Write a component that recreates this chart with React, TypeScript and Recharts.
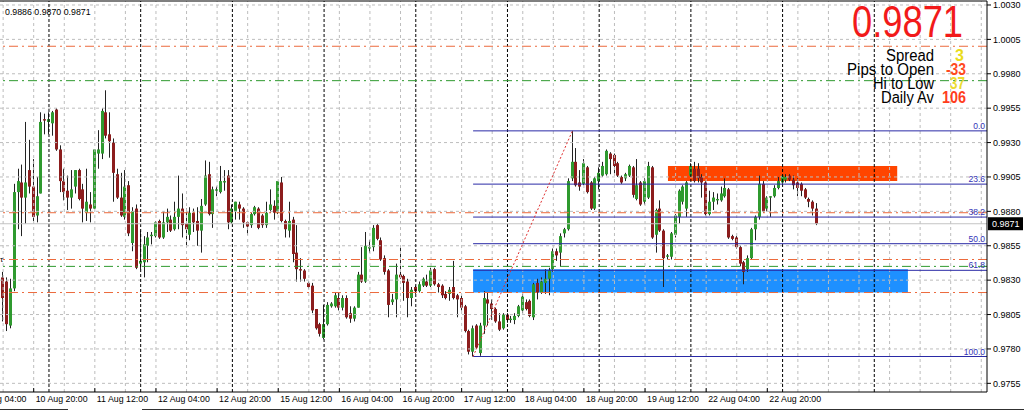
import React from "react";
import { ComposedChart, Bar, XAxis, YAxis, ReferenceLine, ReferenceArea } from "recharts";

// hourly candles, 10 Aug 12:00 -> 23 Aug 09:00
const opens = [
  0.9832, 0.9829, 0.9797, 0.9824, 0.9894, 0.9901, 0.989, 0.991, 0.9898, 0.9877,
  0.9893, 0.9947, 0.9945, 0.9944, 0.9954, 0.9925, 0.9902, 0.9895, 0.989, 0.9898,
  0.991, 0.9896, 0.9879, 0.9885, 0.9882, 0.9922, 0.9922, 0.9952, 0.9936, 0.993,
  0.9907, 0.989, 0.9876, 0.9899, 0.9857, 0.9882, 0.9842, 0.9843, 0.9855, 0.9862,
  0.9862, 0.9873, 0.9861, 0.9872, 0.9874, 0.9867, 0.9876, 0.9882, 0.9871, 0.9863,
  0.9879, 0.9873, 0.9866, 0.9885, 0.9907, 0.9878, 0.9895, 0.9894, 0.9901, 0.9906,
  0.9872, 0.988, 0.9885, 0.9882, 0.9872, 0.987, 0.9878, 0.9882, 0.9877, 0.987,
  0.9881, 0.9884, 0.9879, 0.9901, 0.9873, 0.9866, 0.9874, 0.985, 0.9838, 0.9837,
  0.9828, 0.9826, 0.9809, 0.9798, 0.9788, 0.9798, 0.9811, 0.9811, 0.9817, 0.981,
  0.9817, 0.9806, 0.9802, 0.981, 0.9834, 0.9829, 0.9853, 0.9854, 0.987, 0.9859,
  0.9846, 0.9837, 0.9814, 0.9816, 0.9834, 0.9833, 0.9829, 0.9817, 0.9825, 0.9822,
  0.9826, 0.9829, 0.9826, 0.9838, 0.9827, 0.9826, 0.982, 0.982, 0.9825, 0.9819,
  0.9817, 0.9811, 0.9793, 0.9778, 0.9797, 0.9777, 0.9797, 0.9816, 0.9813, 0.9809,
  0.98, 0.9795, 0.9805, 0.9801, 0.9801, 0.9804, 0.9808, 0.9814, 0.9815, 0.9803,
  0.9828, 0.9821, 0.9828, 0.9831, 0.9838, 0.9851, 0.985, 0.9864, 0.9867, 0.9904,
  0.9916, 0.9901, 0.99, 0.9912, 0.9901, 0.9882, 0.9902, 0.9906, 0.9907, 0.9922,
  0.9921, 0.9915, 0.9905, 0.9904, 0.9906, 0.9912, 0.9889, 0.9901, 0.9887, 0.989,
  0.9912, 0.9863, 0.9882, 0.9866, 0.9847, 0.9847, 0.9863, 0.9876, 0.9887, 0.9882,
  0.9906, 0.9911, 0.9911, 0.9905, 0.9901, 0.9878, 0.9887, 0.9888, 0.9888, 0.9891,
  0.9896, 0.9862, 0.9861, 0.9854, 0.9843, 0.9838, 0.9846, 0.9867, 0.9876, 0.99,
  0.9882, 0.989, 0.9891, 0.9897, 0.9901, 0.9903, 0.9906, 0.9903, 0.9901, 0.99,
  0.9896, 0.9889, 0.9887, 0.9882,
];
const highs = [
  0.9836, 0.9832, 0.9831, 0.99, 0.9911, 0.9914, 0.9945, 0.9932, 0.9918, 0.9905,
  0.9952, 0.9951, 0.9952, 0.9953, 0.9955, 0.9928, 0.9911, 0.9906, 0.991, 0.991,
  0.9911, 0.99, 0.9911, 0.9894, 0.9925, 0.9939, 0.9955, 0.9968, 0.9952, 0.9933,
  0.9911, 0.9908, 0.991, 0.9902, 0.9883, 0.9885, 0.9866, 0.9862, 0.9865, 0.9865,
  0.9873, 0.9874, 0.988, 0.9882, 0.9877, 0.9887, 0.9906, 0.9893, 0.9882, 0.9883,
  0.9882, 0.9883, 0.9889, 0.9917, 0.9916, 0.9898, 0.9898, 0.9913, 0.991, 0.991,
  0.9885, 0.9887, 0.9887, 0.9883, 0.9873, 0.9879, 0.9884, 0.9883, 0.9878, 0.9887,
  0.9896, 0.9888, 0.9902, 0.9905, 0.9874, 0.9887, 0.9876, 0.987, 0.9846, 0.9838,
  0.9829, 0.9828, 0.9809, 0.9799, 0.9812, 0.9814, 0.9814, 0.9821, 0.9821, 0.9819,
  0.9819, 0.9811, 0.9811, 0.9836, 0.9854, 0.9865, 0.9859, 0.987, 0.9871, 0.9861,
  0.9848, 0.9838, 0.982, 0.9842, 0.9855, 0.9834, 0.9831, 0.9825, 0.9826, 0.9829,
  0.9832, 0.9834, 0.9839, 0.9839, 0.9828, 0.9827, 0.9822, 0.9825, 0.9844, 0.982,
  0.9819, 0.9812, 0.9794, 0.9797, 0.9798, 0.9799, 0.9822, 0.9821, 0.9816, 0.981,
  0.9806, 0.9806, 0.9806, 0.9804, 0.9806, 0.9812, 0.982, 0.9816, 0.9816, 0.9828,
  0.9831, 0.9832, 0.9838, 0.9839, 0.9853, 0.9853, 0.9864, 0.9868, 0.9904, 0.99385,
  0.9926, 0.991, 0.9918, 0.9913, 0.9902, 0.9905, 0.9912, 0.9916, 0.9925, 0.9923,
  0.9922, 0.9916, 0.9906, 0.9908, 0.9914, 0.9913, 0.9918, 0.9902, 0.9904, 0.9916,
  0.9913, 0.9882, 0.9888, 0.9867, 0.9849, 0.9865, 0.9878, 0.9896, 0.9899, 0.9902,
  0.9915, 0.9916, 0.9915, 0.9907, 0.9902, 0.9895, 0.9894, 0.9893, 0.9898, 0.9904,
  0.9897, 0.9863, 0.9862, 0.9855, 0.9844, 0.9848, 0.9868, 0.9877, 0.9906, 0.9902,
  0.9891, 0.9891, 0.9899, 0.9905, 0.9907, 0.9907, 0.9907, 0.9906, 0.9904, 0.9901,
  0.9897, 0.989, 0.9888, 0.9886,
];
const lows = [
  0.98, 0.9793, 0.9795, 0.9822, 0.9867, 0.9862, 0.9871, 0.9893, 0.9873, 0.9872,
  0.9893, 0.9936, 0.9936, 0.9935, 0.9924, 0.9894, 0.9888, 0.9881, 0.9882, 0.9893,
  0.9888, 0.9872, 0.9873, 0.9872, 0.9882, 0.9911, 0.9918, 0.9933, 0.9919, 0.9887,
  0.9889, 0.9876, 0.9874, 0.9862, 0.9851, 0.9838, 0.9838, 0.9832, 0.9843, 0.9856,
  0.9861, 0.986, 0.986, 0.9865, 0.9865, 0.9866, 0.9867, 0.9861, 0.9854, 0.9859,
  0.9865, 0.9855, 0.985, 0.9884, 0.9877, 0.9868, 0.9891, 0.9893, 0.9895, 0.9867,
  0.9871, 0.9874, 0.9874, 0.9868, 0.9863, 0.9868, 0.9877, 0.9867, 0.9868, 0.9868,
  0.9879, 0.9874, 0.9878, 0.9872, 0.9861, 0.9861, 0.9843, 0.9829, 0.9829, 0.9829,
  0.9824, 0.9806, 0.9794, 0.9789, 0.9787, 0.9797, 0.981, 0.981, 0.9808, 0.9808,
  0.9802, 0.9799, 0.98, 0.981, 0.9828, 0.9828, 0.985, 0.9851, 0.9859, 0.9844,
  0.9834, 0.9803, 0.9812, 0.9803, 0.9831, 0.9815, 0.9803, 0.9811, 0.982, 0.9821,
  0.9825, 0.9825, 0.9825, 0.9826, 0.9821, 0.9817, 0.9816, 0.9815, 0.9816, 0.9803,
  0.9808, 0.9792, 0.9776, 0.97745, 0.978, 0.9775, 0.9791, 0.9797, 0.9801, 0.9799,
  0.9793, 0.9794, 0.9799, 0.9799, 0.9798, 0.9803, 0.9806, 0.9808, 0.9803, 0.9801,
  0.9816, 0.982, 0.982, 0.9819, 0.9836, 0.9844, 0.984, 0.9861, 0.9866, 0.9902,
  0.9898, 0.9895, 0.9899, 0.9893, 0.9881, 0.9881, 0.9896, 0.9905, 0.9906, 0.9907,
  0.9907, 0.9905, 0.99, 0.9902, 0.9905, 0.989, 0.9888, 0.9884, 0.9885, 0.9889,
  0.986, 0.985, 0.9865, 0.9825, 0.9845, 0.9845, 0.9861, 0.9871, 0.9885, 0.9876,
  0.9905, 0.9901, 0.9901, 0.989, 0.9877, 0.9877, 0.9881, 0.9885, 0.9887, 0.989,
  0.986, 0.9859, 0.9853, 0.984, 0.9827, 0.9836, 0.9845, 0.9859, 0.9874, 0.9879,
  0.988, 0.9876, 0.989, 0.9896, 0.99, 0.9901, 0.9902, 0.9896, 0.9891, 0.9891,
  0.9889, 0.9883, 0.9877, 0.987,
];
const closes = [
  0.9817, 0.9798, 0.9824, 0.9894, 0.9902, 0.989, 0.9901, 0.9898, 0.9876, 0.9891,
  0.9945, 0.9946, 0.9947, 0.9952, 0.9925, 0.9902, 0.9894, 0.989, 0.9896, 0.991,
  0.9889, 0.9882, 0.9887, 0.9882, 0.9925, 0.9925, 0.9953, 0.9935, 0.9931, 0.9908,
  0.989, 0.9877, 0.9898, 0.9864, 0.988, 0.9839, 0.9844, 0.9856, 0.9861, 0.9863,
  0.9872, 0.9861, 0.9872, 0.9876, 0.9866, 0.9876, 0.9882, 0.987, 0.9867, 0.9879,
  0.9872, 0.9866, 0.9884, 0.9906, 0.9878, 0.9896, 0.9896, 0.9902, 0.9902, 0.9872,
  0.9882, 0.9887, 0.9882, 0.9872, 0.9869, 0.9878, 0.9883, 0.9868, 0.987, 0.9879,
  0.9885, 0.9879, 0.9902, 0.9873, 0.9867, 0.9873, 0.9849, 0.9838, 0.9837, 0.9831,
  0.9825, 0.9808, 0.9795, 0.9791, 0.9798, 0.9812, 0.9813, 0.9819, 0.981, 0.9817,
  0.9803, 0.9802, 0.981, 0.9834, 0.9829, 0.9855, 0.9854, 0.9868, 0.986, 0.9845,
  0.9836, 0.9812, 0.9816, 0.9834, 0.9832, 0.9828, 0.9817, 0.9823, 0.9822, 0.9827,
  0.9831, 0.9826, 0.9837, 0.9827, 0.9825, 0.9819, 0.9817, 0.9823, 0.9817, 0.9816,
  0.981, 0.9793, 0.9778, 0.9795, 0.9781, 0.9797, 0.9817, 0.9813, 0.9809, 0.98,
  0.9794, 0.9805, 0.9801, 0.9802, 0.9804, 0.9811, 0.9818, 0.9809, 0.9804, 0.9827,
  0.9821, 0.9829, 0.9831, 0.9837, 0.9851, 0.9848, 0.9862, 0.9867, 0.9902, 0.9916,
  0.9899, 0.9898, 0.9915, 0.9894, 0.9882, 0.9904, 0.9908, 0.9913, 0.9924, 0.9918,
  0.9913, 0.9906, 0.9901, 0.9907, 0.9913, 0.9892, 0.9899, 0.9885, 0.9902, 0.9913,
  0.9861, 0.9881, 0.9866, 0.9846, 0.9848, 0.9864, 0.9877, 0.9895, 0.9898, 0.9901,
  0.9913, 0.9902, 0.9904, 0.9901, 0.9878, 0.9887, 0.989, 0.9889, 0.9893, 0.9897,
  0.9861, 0.986, 0.9854, 0.9842, 0.9836, 0.9846, 0.9867, 0.9876, 0.99, 0.988,
  0.989, 0.9891, 0.9897, 0.9902, 0.9906, 0.9905, 0.9903, 0.9899, 0.9897, 0.9895,
  0.989, 0.9887, 0.9882, 0.9871,
];

const timeTicks = [-8, 8, 24, 40, 56, 72, 88, 104, 120, 136, 152, 168, 184, 200];
const timeLabels = [
  "10 Aug 04:00", "10 Aug 20:00", "11 Aug 12:00", "12 Aug 04:00", "12 Aug 20:00",
  "15 Aug 12:00", "16 Aug 04:00", "16 Aug 20:00", "17 Aug 12:00", "18 Aug 04:00",
  "18 Aug 20:00", "19 Aug 12:00", "22 Aug 04:00", "22 Aug 20:00",
];
const priceTicks = [
  0.9755, 0.978, 0.9805, 0.983, 0.9855, 0.988, 0.9905, 0.993, 0.9955, 0.998, 1.0005, 1.003,
];
const gridBars = [
  0, 8, 16, 24, 32, 40, 48, 56, 64, 72, 80, 88, 96, 104, 112, 120, 128, 136, 144, 152,
  160, 168, 176, 184, 192, 200, 208, 216, 224, 232, 240, 248, 256,
];
const daySeparators = [12, 36, 60, 84, 108, 132, 156, 180, 204, 228];

const orangeLevels = [1.0, 0.9879, 0.9845, 0.9821];
const greenLevels = [0.9975, 0.984];
const bid = 0.9871;

const fibStart = 123;
const fibEnd = 149;
const fibLow = 0.97745;
const fibHigh = 0.99385;
const fibRatios = [0, 23.6, 38.2, 50, 61.8, 100];

const blueZone = { x1: 123, x2: 236.8, y1: 0.9821, y2: 0.9838 };
const redZone = { x1: 174, x2: 234, y1: 0.9902, y2: 0.9913 };

const X0 = -0.82;
const X1 = 257.5;
const Y0 = 0.97487;
const Y1 = 1.00329;

const FONT = "'Liberation Sans', Arial, sans-serif";

const data = opens.map((o, i) => ({
  i,
  open: o,
  high: highs[i],
  low: lows[i],
  close: closes[i],
  range: [lows[i], highs[i]],
}));

const Candle = (props: any) => {
  const { x, y, width, height, payload } = props;
  if (!payload) return null;
  const top = height >= 0 ? y : y + height;
  const h = Math.abs(height);
  const { open, close, high, low } = payload;
  const k = high === low ? 0 : h / (high - low);
  const yO = top + (high - open) * k;
  const yC = top + (high - close) * k;
  const cx = Math.round(x + width / 2 - 0.5) + 0.5;
  const up = close >= open;
  const bTop = Math.min(yO, yC);
  const bH = Math.max(1, Math.abs(yC - yO));
  return (
    <g>
      <line x1={cx} x2={cx} y1={top} y2={top + h} stroke="#222" strokeWidth={1} />
      <rect
        x={cx - 1.5}
        y={bTop}
        width={3}
        height={bH}
        fill={up ? "#2f9a2f" : "#8c1d1d"}
      />
    </g>
  );
};

const TimeTick = (props: any) => {
  const { x, y, payload } = props;
  const idx = timeTicks.indexOf(payload.value);
  return (
    <g>
      <line x1={x} x2={x} y1={y - 4} y2={y} stroke="#000" />
      <text x={x + 2} y={y + 10} fontSize={8.8} fontFamily={FONT} fill="#000" textAnchor="start">
        {timeLabels[idx]}
      </text>
    </g>
  );
};

const FibLabel = (props: any) => {
  const { viewBox, text } = props;
  if (!viewBox) return null;
  return (
    <text
      x={viewBox.x + viewBox.width - 2}
      y={viewBox.y - 2}
      fontSize={8.5}
      fontFamily={FONT}
      fill="#3434b8"
      textAnchor="end"
    >
      {text}
    </text>
  );
};

const BidTag = (props: any) => {
  const { viewBox } = props;
  if (!viewBox) return null;
  const x = viewBox.x + viewBox.width + 1;
  return (
    <g>
      <rect x={x} y={viewBox.y - 6.5} width={35} height={13} fill="#000" />
      <text x={x + 4} y={viewBox.y + 3.5} fontSize={9} fontFamily={FONT} fill="#fff">
        {bid.toFixed(4)}
      </text>
    </g>
  );
};

export default function App() {
  const fibRange = fibHigh - fibLow;
  return (
    <div
      style={{
        position: "absolute",
        left: 0,
        top: 0,
        width: 1024,
        height: 411,
        background: "#fff",
        overflow: "hidden",
      }}
    >
      <ComposedChart width={1024} height={411} data={data} margin={{ top: 1, right: 0, bottom: 0, left: 0 }}>
        <XAxis
          type="number"
          dataKey="i"
          domain={[X0, X1]}
          allowDataOverflow
          ticks={timeTicks}
          interval={0}
          tick={<TimeTick />}
          tickLine={false}
          tickSize={0}
          tickMargin={0}
          axisLine={{ stroke: "#000" }}
          height={19}
        />
        <YAxis
          orientation="right"
          domain={[Y0, Y1]}
          allowDataOverflow
          ticks={priceTicks}
          interval={0}
          width={37}
          tickSize={4}
          tickMargin={2}
          tick={{ fontSize: 9, fill: "#000", fontFamily: FONT }}
          tickFormatter={(v: number) => v.toFixed(4)}
          axisLine={{ stroke: "#000" }}
          tickLine={{ stroke: "#000" }}
        />

        <ReferenceArea {...blueZone} fill="#1e90ff" fillOpacity={1} stroke="none" />
        <ReferenceArea {...redZone} fill="#ff4500" fillOpacity={1} stroke="none" />

        {priceTicks.map((p) => (
          <ReferenceLine key={"gy" + p} y={p} stroke="#bdbdbd" strokeDasharray="3 3" />
        ))}
        {gridBars.map((b) => (
          <ReferenceLine key={"gx" + b} x={b} stroke="#bdbdbd" strokeDasharray="3 3" />
        ))}
        {daySeparators.map((b) => (
          <ReferenceLine key={"sep" + b} x={b} stroke="#000" strokeDasharray="3 2" />
        ))}

        <ReferenceLine y={Y1} stroke="#000" ifOverflow="extendDomain" />
        <ReferenceLine y={bid} stroke="#c4c4c4" label={<BidTag />} />

        {orangeLevels.map((p) => (
          <ReferenceLine key={"o" + p} y={p} stroke="#ec6a3c" strokeDasharray="9 4 2 4" />
        ))}
        {greenLevels.map((p) => (
          <ReferenceLine key={"g" + p} y={p} stroke="#2f9a2f" strokeDasharray="9 4 2 4" />
        ))}

        {fibRatios.map((r) => {
          const lvl = fibHigh - (r / 100) * fibRange;
          return (
            <ReferenceLine
              key={"fib" + r}
              segment={[
                { x: fibStart, y: lvl },
                { x: X1, y: lvl },
              ]}
              stroke="#2a2aa6"
              label={<FibLabel text={r === 100 ? "100.0" : r.toFixed(1)} />}
            />
          );
        })}
        <ReferenceLine
          segment={[
            { x: fibStart, y: fibLow },
            { x: fibEnd, y: fibHigh },
          ]}
          stroke="#e03030"
          strokeDasharray="2 2"
        />

        <Bar dataKey="range" barSize={3} shape={<Candle />} isAnimationActive={false} />
      </ComposedChart>

      <svg
        width={1024}
        height={411}
        style={{ position: "absolute", left: 0, top: 0, pointerEvents: "none" }}
        fontFamily={FONT}
      >
        <line x1={0} x2={68} y1={409.5} y2={409.5} stroke="#303030" />
        <line x1={142} x2={1024} y1={409.5} y2={409.5} stroke="#303030" />
        <text x={0} y={262} fontSize={8} fill="#000">
          τ
        </text>
        <text x={5} y={15} fontSize={8.8} fill="#000">
          0.9886 0.9870 0.9871
        </text>
        <text x={963} y={37} fontSize={44} fill="#f21a1a" textAnchor="end" textLength={111} lengthAdjust="spacingAndGlyphs">
          0.9871
        </text>
        <text x={934} y={61} fontSize={16} fill="#000" textAnchor="end" textLength={48} lengthAdjust="spacingAndGlyphs">
          Spread
        </text>
        <text x={934} y={75} fontSize={16} fill="#000" textAnchor="end" textLength={87} lengthAdjust="spacingAndGlyphs">
          Pips to Open
        </text>
        <text x={934} y={89} fontSize={16} fill="#000" textAnchor="end" textLength={61} lengthAdjust="spacingAndGlyphs">
          Hi to Low
        </text>
        <text x={934} y={103} fontSize={16} fill="#000" textAnchor="end" textLength={53} lengthAdjust="spacingAndGlyphs">
          Daily Av
        </text>
        <text x={964} y={61} fontSize={16} fontWeight="bold" fill="#eadc1a" textAnchor="end">
          3
        </text>
        <text x={966} y={75} fontSize={16} fontWeight="bold" fill="#ff4a1e" textAnchor="end" textLength={20} lengthAdjust="spacingAndGlyphs">
          -33
        </text>
        <text x={965} y={89} fontSize={16} fontWeight="bold" fill="#ecdc30" textAnchor="end" textLength={15} lengthAdjust="spacingAndGlyphs">
          37
        </text>
        <text x={966} y={103} fontSize={16} fontWeight="bold" fill="#ff3d1c" textAnchor="end" textLength={24} lengthAdjust="spacingAndGlyphs">
          106
        </text>
      </svg>
    </div>
  );
}
